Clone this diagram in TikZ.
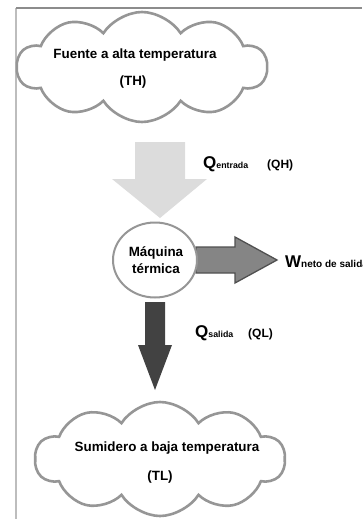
\documentclass[tikz,border=0pt]{standalone}
\usepackage{fontspec}
\setmainfont{Liberation Sans}
\usetikzlibrary{shapes.symbols,shapes.geometric}
\definecolor{frameA}{HTML}{8C8C8C}
\definecolor{frameB}{HTML}{BDBDBD}
\definecolor{cloudgray}{HTML}{969696}
\definecolor{lightarrow}{HTML}{DCDCDC}
\definecolor{midarrow}{HTML}{858585}
\definecolor{midedge}{HTML}{505050}
\definecolor{darkarrow}{HTML}{424242}
\tikzset{
  cloudbox/.style={cloud, cloud puffs=10, cloud puff arc=115, cloud ignores aspect,
    draw=cloudgray, line width=2.6pt, fill=white, inner sep=0pt},
  lbl/.style={font=\bfseries\fontsize{13.4}{15}\selectfont, inner sep=0pt, align=center},
  qlbl/.style={inner sep=0pt, anchor=base west},
}
\newcommand{\bigQ}[3]{{\bfseries\fontsize{17}{17}\selectfont #1}{\bfseries\fontsize{#3}{9}\selectfont #2}}
\begin{document}
\begin{tikzpicture}[x=1pt,y=-1pt]
\clip (0,0) rectangle (362,519);
\useasboundingbox (0,0) rectangle (362,519);
% frame
\draw[frameB, line width=1.4pt] (16,8) -- (16,519);
\draw[frameA, line width=1.4pt] (16,8) -- (362,8);
% clouds
\node[cloudbox, minimum width=250pt, minimum height=110pt] (top) at (142,67) {};
\node[lbl] (toptxt) at (135,55) {Fuente a alta temperatura};
\node[lbl] (th) at (133,82) {(TH)};
\node[cloudbox, minimum width=250pt, minimum height=114pt] (bot) at (160,459) {};
\node[lbl] (bottxt) at (167,448) {Sumidero a baja temperatura};
\node[lbl] (tl) at (160,477) {(TL)};
% light arrow (input)
\fill[lightarrow] (135,142) -- (185,142) -- (185,179) -- (207,179) -- (160,218) -- (112,179) -- (135,179) -- cycle;
% right arrow (work)
\filldraw[fill=midarrow, draw=midedge, line width=1.3pt, line join=miter]
  (196,247) -- (235,247) -- (235,237) -- (277,260) -- (235,283) -- (235,273) -- (196,273) -- cycle;
% dark arrow (output)
\fill[darkarrow] (145,302) -- (165,302) -- (165,345) -- (172,345) -- (155,390) -- (138,345) -- (145,345) -- cycle;
% machine
\node[ellipse, draw=cloudgray, line width=2pt, fill=white, minimum width=84pt, minimum height=75pt, inner sep=0pt] (maq) at (155,260) {};
\node[lbl] (maqtxt) at (156,260) {Máquina\\[2pt]térmica};
% labels
\node[qlbl] (qin) at (203,168) {\bigQ{Q}{entrada}{8.8}};
\node[qlbl] (qh) at (267,168) {\bfseries\fontsize{12}{12}\selectfont (QH)};
\node[qlbl] (w) at (285,267) {\bigQ{W}{neto de salida}{10}};
\node[qlbl] (qout) at (195,337) {\bigQ{Q}{salida}{8.8}};
\node[qlbl] (ql) at (248,337) {\bfseries\fontsize{12}{12}\selectfont (QL)};
\end{tikzpicture}
\end{document}
